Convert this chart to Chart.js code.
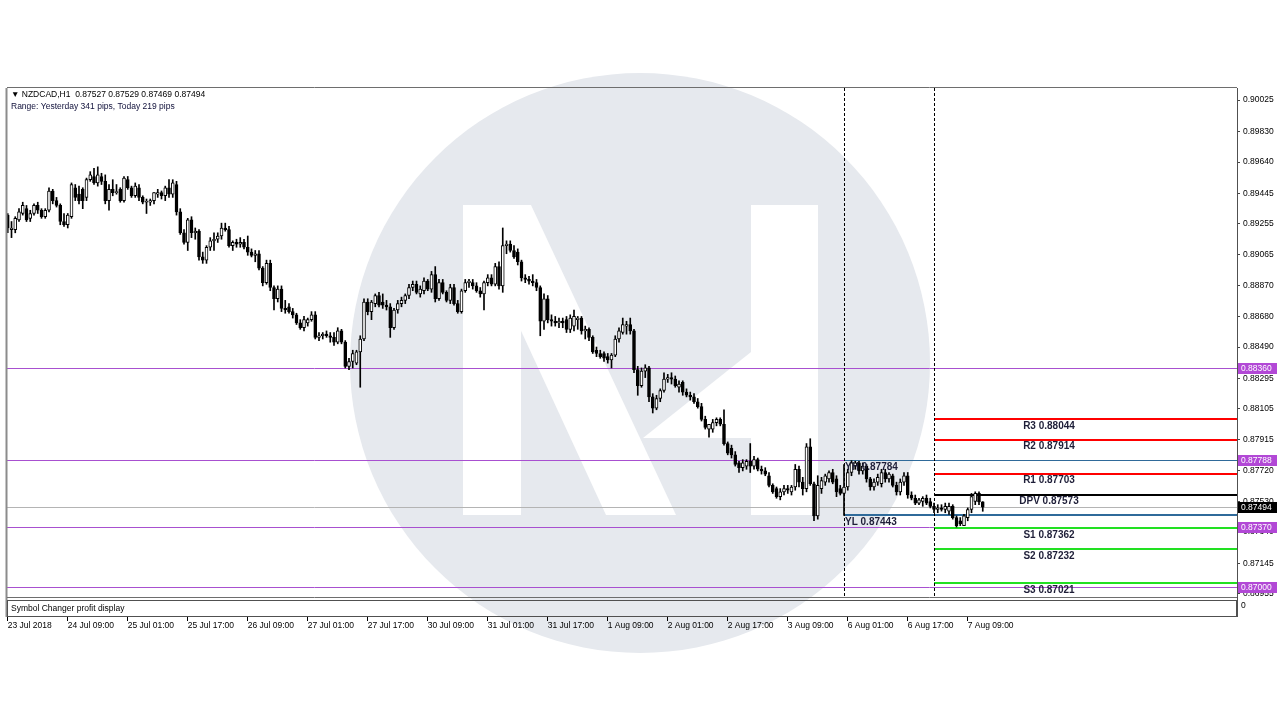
<!DOCTYPE html>
<html>
<head>
<meta charset="utf-8">
<title>NZDCAD,H1</title>
<script src="https://cdn.jsdelivr.net/npm/chart.js"></script>
<style>
  html, body { margin: 0; padding: 0; background: #fff; }
  canvas { display: block; }
</style>
</head>
<body>
<canvas id="chart" width="1280" height="720"></canvas>
<script>
// H1 bars, 23 Jul 17:00 .. 7 Aug 13:00
const barOpen = [
  .8931,.8922,.8922,.8928,.8932,.8935,.8929,.8932,.8937,.8934,
  .8930,.8934,.8946,.8940,.8937,.8927,.8925,.8930,.8948,.8944,
  .8947,.8942,.8953,.8955,.8951,.8955,.8952,.8940,.8947,.8945,
  .8947,.8940,.8953,.8948,.8943,.8948,.8942,.8939,.8939,.8940,
  .8944,.8945,.8943,.8948,.8944,.8950,.8933,.8920,.8914,.8928,
  .8920,.8921,.8905,.8903,.8911,.8915,.8916,.8918,.8923,.8922,
  .8912,.8914,.8913,.8914,.8911,.8908,.8906,.8907,.8898,.8889,
  .8901,.8886,.8879,.8885,.8873,.8874,.8871,.8869,.8864,.8861,
  .8864,.8866,.8869,.8855,.8856,.8857,.8856,.8855,.8852,.8859,
  .8852,.8837,.8840,.8839,.8846,.8854,.8877,.8871,.8876,.8881,
  .8877,.8875,.8874,.8861,.8872,.8876,.8878,.8881,.8886,.8888,
  .8882,.8884,.8890,.8885,.8894,.8879,.8889,.8883,.8878,.8886,
  .8876,.8871,.8884,.8889,.8889,.8887,.8884,.8882,.8889,.8892,
  .8888,.8899,.8887,.8912,.8913,.8909,.8908,.8902,.8892,.8891,
  .8890,.8889,.8886,.8865,.8879,.8866,.8865,.8864,.8865,.8866,
  .8860,.8862,.8866,.8867,.8859,.8860,.8855,.8847,.8845,.8845,
  .8843,.8841,.8844,.8854,.8858,.8862,.8863,.8859,.8835,.8825,
  .8834,.8836,.8818,.8811,.8817,.8822,.8829,.8830,.8829,.8824,
  .8827,.8821,.8819,.8818,.8815,.8812,.8804,.8798,.8798,.8802,
  .8804,.8801,.8789,.8786,.8782,.8777,.8774,.8775,.8778,.8775,
  .8779,.8773,.8772,.8769,.8763,.8761,.8756,.8759,.8761,.8759,
  .8762,.8773,.8765,.8761,.8787,.8764,.8744,.8761,.8765,.8767,
  .8771,.8767,.8761,.8758,.8762,.8771,.8775,.8777,.8772,.8775,
  .8767,.8762,.8765,.8764,.8771,.8767,.8769,.8763,.8759,.8765,
  .8769,.8757,.8755,.8752,.8753,.8755,.8753,.8750,.8748,.8749,
  .8748,.8747,.8750,.8743,.8741,.8738,.8743,.8748,.8753,.8758,
  .87527
];
const barHigh = [
  .8932,.8927,.8930,.8935,.8939,.8937,.8934,.8938,.8939,.8935,
  .8935,.8948,.8947,.8942,.8938,.8932,.8932,.8951,.8950,.8949,
  .8948,.8954,.8958,.8960,.8961,.8957,.8956,.8950,.8953,.8950,
  .8948,.8955,.8955,.8949,.8951,.8950,.8943,.8941,.8941,.8945,
  .8947,.8946,.8949,.8953,.8953,.8952,.8935,.8922,.8929,.8930,
  .8923,.8922,.8908,.8912,.8917,.8920,.8920,.8926,.8926,.8924,
  .8915,.8916,.8917,.8916,.8918,.8910,.8909,.8909,.8899,.8903,
  .8903,.8887,.8887,.8887,.8878,.8876,.8873,.8870,.8866,.8868,
  .8867,.8871,.8871,.8858,.8858,.8859,.8858,.8858,.8861,.8860,
  .8853,.8842,.8847,.8847,.8856,.8879,.8879,.8878,.8882,.8883,
  .8882,.8878,.8876,.8873,.8878,.8880,.8882,.8888,.8890,.8890,
  .8887,.8892,.8891,.8896,.8899,.8891,.8891,.8884,.8888,.8888,
  .8878,.8885,.8891,.8891,.8891,.8889,.8886,.8890,.8894,.8894,
  .8901,.8902,.8923,.8915,.8915,.8912,.8910,.8903,.8894,.8893,
  .8894,.8891,.8887,.8882,.8881,.8869,.8868,.8867,.8867,.8868,
  .8869,.8872,.8868,.8868,.8862,.8861,.8856,.8849,.8847,.8846,
  .8845,.8845,.8856,.8861,.8867,.8865,.8867,.8860,.8837,.8836,
  .8838,.8837,.8820,.8819,.8823,.8833,.8832,.8833,.8831,.8828,
  .8828,.8823,.8821,.8820,.8817,.8814,.8806,.8801,.8804,.8805,
  .8805,.8810,.8790,.8788,.8784,.8778,.8779,.8779,.8789,.8781,
  .8780,.8775,.8774,.8771,.8764,.8762,.8761,.8763,.8763,.8763,
  .8776,.8775,.8768,.8789,.8792,.8765,.8769,.8768,.8770,.8772,
  .8773,.8769,.8763,.8776,.8773,.87784,.8778,.8778,.8777,.8776,
  .8768,.8767,.8770,.8773,.8773,.8771,.8770,.8765,.8767,.8771,
  .8771,.8759,.8757,.8755,.8756,.8757,.8755,.8752,.8751,.8751,
  .8752,.8752,.8751,.8744,.8743,.8745,.8749,.8758,.8759,.87590,
  .87529
];
const barLow = [
  .8920,.8917,.8920,.8927,.8931,.8927,.8927,.8931,.8932,.8929,
  .8929,.8933,.8938,.8936,.8925,.8924,.8923,.8929,.8940,.8938,
  .8935,.8940,.8952,.8950,.8949,.8950,.8938,.8934,.8943,.8944,
  .8939,.8939,.8947,.8942,.8942,.8940,.8938,.8932,.8937,.8938,
  .8942,.8941,.8940,.8942,.8942,.8931,.8919,.8913,.8909,.8917,
  .8916,.8903,.8901,.8901,.8909,.8909,.8914,.8916,.8921,.8911,
  .8909,.8911,.8911,.8910,.8906,.8905,.8902,.8897,.8887,.8888,
  .8884,.8872,.8877,.8871,.8870,.8870,.8867,.8863,.8860,.8859,
  .8862,.8865,.8854,.8853,.8854,.8855,.8852,.8850,.8851,.8851,
  .8836,.8835,.8836,.8838,.8824,.8853,.8869,.8866,.8874,.8874,
  .8873,.8872,.8855,.8860,.8870,.8874,.8876,.8879,.8884,.8882,
  .8880,.8882,.8884,.8883,.8877,.8878,.8882,.8877,.8876,.8875,
  .8870,.8870,.8883,.8886,.8885,.8883,.8880,.8872,.8887,.8887,
  .8887,.8885,.8883,.8907,.8908,.8904,.8900,.8890,.8889,.8888,
  .8887,.8884,.8856,.8860,.8864,.8862,.8862,.8861,.8861,.8858,
  .8858,.8859,.8860,.8857,.8854,.8853,.8845,.8843,.8842,.8840,
  .8839,.8836,.8843,.8852,.8857,.8857,.8857,.8833,.8819,.8824,
  .8830,.8815,.8808,.8810,.8815,.8821,.8827,.8826,.8824,.8821,
  .8819,.8818,.8816,.8814,.8811,.8803,.8798,.8793,.8796,.8800,
  .8800,.8788,.8782,.8780,.8775,.8771,.8772,.8773,.8771,.8773,
  .8772,.8770,.8769,.8762,.8758,.8755,.8754,.8757,.8758,.8757,
  .8760,.8762,.8757,.8759,.8763,.8741,.8742,.8758,.8763,.8765,
  .8764,.8756,.8757,.87443,.8760,.8769,.8773,.8770,.8770,.8765,
  .8760,.8760,.8763,.8762,.8765,.8765,.8762,.8757,.8757,.8763,
  .8755,.8754,.8751,.8751,.8750,.8751,.8749,.8746,.8746,.8747,
  .8746,.8745,.8742,.87371,.8738,.8738,.8741,.8746,.8751,.8751,
  .87469
];
const barClose = [
  .8923,.8923,.8929,.8933,.8937,.8928,.8932,.8937,.8934,.8930,
  .8934,.8946,.8940,.8937,.8927,.8925,.8931,.8950,.8942,.8940,
  .8940,.8953,.8956,.8951,.8956,.8952,.8940,.8947,.8945,.8945,
  .8940,.8954,.8948,.8943,.8949,.8942,.8939,.8939,.8940,.8945,
  .8945,.8943,.8948,.8944,.8951,.8933,.8920,.8914,.8928,.8920,
  .8921,.8905,.8903,.8911,.8915,.8916,.8918,.8923,.8922,.8912,
  .8914,.8913,.8914,.8911,.8908,.8906,.8907,.8898,.8889,.8901,
  .8886,.8879,.8885,.8873,.8872,.8871,.8869,.8864,.8861,.8866,
  .8866,.8869,.8855,.8856,.8857,.8856,.8855,.8852,.8859,.8852,
  .8837,.8840,.8845,.8846,.8854,.8877,.8871,.8877,.8881,.8875,
  .8875,.8874,.8861,.8872,.8876,.8878,.8881,.8886,.8888,.8883,
  .8885,.8890,.8885,.8894,.8879,.8889,.8883,.8878,.8886,.8876,
  .8871,.8884,.8889,.8890,.8887,.8884,.8882,.8889,.8892,.8888,
  .8899,.8887,.8912,.8913,.8909,.8905,.8902,.8892,.8891,.8890,
  .8889,.8886,.8865,.8879,.8866,.8865,.8864,.8865,.8864,.8860,
  .8867,.8868,.8867,.8859,.8860,.8855,.8846,.8845,.8843,.8842,
  .8841,.8844,.8854,.8859,.8863,.8863,.8859,.8835,.8825,.8834,
  .8836,.8818,.8811,.8817,.8822,.8829,.8830,.8829,.8825,.8826,
  .8821,.8819,.8818,.8815,.8812,.8804,.8799,.8801,.8802,.8804,
  .8801,.8789,.8783,.8782,.8776,.8774,.8777,.8778,.8775,.8779,
  .8773,.8772,.8770,.8763,.8759,.8756,.8759,.8761,.8760,.8762,
  .8773,.8765,.8761,.8787,.8764,.8744,.8763,.8766,.8769,.8771,
  .8765,.8759,.8758,.8762,.8771,.8777,.8777,.8772,.8775,.8767,
  .8762,.8765,.8768,.8771,.8767,.8770,.8763,.8759,.8765,.8769,
  .8757,.8755,.8752,.8754,.8755,.8752,.8750,.8748,.8749,.8748,
  .8750,.8750,.8743,.8738,.8739,.8744,.8748,.8756,.8758,.87527,
  .87494
];

// time axis: one label every 16 bars
const timeLabels = ["23 Jul 2018", "24 Jul 09:00", "25 Jul 01:00", "25 Jul 17:00", "26 Jul 09:00",
  "27 Jul 01:00", "27 Jul 17:00", "30 Jul 09:00", "31 Jul 01:00", "31 Jul 17:00", "1 Aug 09:00",
  "2 Aug 01:00", "2 Aug 17:00", "3 Aug 09:00", "6 Aug 01:00", "6 Aug 17:00", "7 Aug 09:00"];
const timeLabelBars = [0, 16, 32, 48, 64, 80, 96, 112, 128, 144, 160, 176, 192, 208, 224, 240, 256];
const daySeparatorBars = [223, 247];

// price scale ticks (right side)
const priceTicks = [0.90025, 0.89830, 0.89640, 0.89445, 0.89255, 0.89065, 0.88870, 0.88680, 0.88490,
  0.88295, 0.88105, 0.87915, 0.87720, 0.87530, 0.87340, 0.87145, 0.86955];

// levels
const levelPrices = [0.88360, 0.87788, 0.87370, 0.87000];
const pivotNames = ["R3", "R2", "R1", "DPV", "S1", "S2", "S3"];
const pivotValues = [0.88044, 0.87914, 0.87703, 0.87573, 0.87362, 0.87232, 0.87021];
const pivotColors = ["#ff0000", "#ff0000", "#ff0000", "#000000", "#22e022", "#22e022", "#22e022"];
const yesterdayHigh = 0.87784;
const yesterdayLow = 0.87443;
const lastPrice = 0.87494;

const FONT = '"Liberation Sans", Arial, "DejaVu Sans", sans-serif';
Chart.defaults.font.family = FONT;

const poly = (c, pts) => {
  c.beginPath();
  c.moveTo(pts[0][0], pts[0][1]);
  pts.slice(1).forEach(p => c.lineTo(p[0], p[1]));
  c.closePath();
  c.fill();
};

const overlay = {
  id: 'overlay',
  beforeDraw(chart) {
    const c = chart.ctx;
    c.save();
    c.fillStyle = '#ffffff';
    c.fillRect(0, 0, chart.width, chart.height);
    // watermark logo
    c.fillStyle = 'rgb(230,233,238)';
    c.beginPath();
    c.arc(640, 363, 290, 0, Math.PI * 2);
    c.fill();
    c.fillStyle = '#ffffff';
    poly(c, [[463, 205], [521, 205], [521, 515], [463, 515]]);
    poly(c, [[463, 205], [531, 205], [676, 515], [606, 515]]);
    poly(c, [[751, 205], [818, 205], [818, 515], [751, 515]]);
    poly(c, [[751, 352], [751, 438], [643, 438]]);
    c.restore();
  },
  beforeDatasetsDraw(chart) {
    const c = chart.ctx, a = chart.chartArea;
    const x = chart.scales.x, y = chart.scales.y;
    const px = v => Math.round(y.getPixelForValue(v)) + 0.5;
    c.save();
    c.beginPath();
    c.rect(a.left, a.top, a.right - a.left, a.bottom - a.top);
    c.clip();
    c.lineWidth = 1;
    // last price line
    c.strokeStyle = '#b4b4b4';
    c.beginPath(); c.moveTo(a.left, px(lastPrice)); c.lineTo(a.right, px(lastPrice)); c.stroke();
    // purple levels
    c.strokeStyle = 'rgb(168,80,208)';
    levelPrices.forEach(v => {
      c.beginPath(); c.moveTo(a.left, px(v)); c.lineTo(a.right, px(v)); c.stroke();
    });
    // yesterday high / low
    const xd = Math.round(x.getPixelForValue(daySeparatorBars[0]));
    c.strokeStyle = '#2f6a9a';
    c.beginPath(); c.moveTo(xd, px(yesterdayHigh) - 1); c.lineTo(a.right, px(yesterdayHigh) - 1); c.stroke();
    c.lineWidth = 2;
    const yl = Math.round(y.getPixelForValue(yesterdayLow));
    c.beginPath(); c.moveTo(xd, yl); c.lineTo(a.right, yl); c.stroke();
    // pivots
    const xp = Math.round(x.getPixelForValue(daySeparatorBars[1]));
    pivotValues.forEach((v, i) => {
      const yy = Math.round(y.getPixelForValue(v));
      c.strokeStyle = pivotColors[i];
      c.beginPath(); c.moveTo(xp, yy); c.lineTo(a.right, yy); c.stroke();
    });
    // day separators
    c.lineWidth = 1;
    c.strokeStyle = '#000';
    c.setLineDash([3, 2]);
    daySeparatorBars.forEach(b => {
      const xx = Math.round(x.getPixelForValue(b)) + 0.5;
      c.beginPath(); c.moveTo(xx, a.top); c.lineTo(xx, a.bottom); c.stroke();
    });
    c.restore();
  },
  afterDraw(chart) {
    const c = chart.ctx, a = chart.chartArea;
    const x = chart.scales.x, y = chart.scales.y;
    c.save();
    // pivot labels
    c.font = 'bold 10px ' + FONT;
    c.fillStyle = '#1e1e38';
    c.textAlign = 'center';
    c.textBaseline = 'middle';
    pivotValues.forEach((v, i) => {
      c.fillText(pivotNames[i] + ' ' + v.toFixed(5), 1049, y.getPixelForValue(v) + 7);
    });
    // YH / YL labels
    c.textAlign = 'left';
    const xd = x.getPixelForValue(daySeparatorBars[0]) + 1;
    c.fillText('YH ' + yesterdayHigh.toFixed(5), xd, y.getPixelForValue(yesterdayHigh) + 7);
    c.fillText('YL ' + yesterdayLow.toFixed(5), xd, y.getPixelForValue(yesterdayLow) + 7);

    // price boxes on the right axis
    c.font = '8.5px ' + FONT;
    const box = (v, bg) => {
      const yy = Math.round(y.getPixelForValue(v));
      c.fillStyle = bg;
      c.fillRect(a.right + 1, yy - 5, 39, 11);
      c.fillStyle = '#ffffff';
      c.fillText(v.toFixed(5), a.right + 4, yy + 0.5);
    };
    levelPrices.forEach(v => box(v, 'rgb(178,72,214)'));
    box(lastPrice, '#000000');

    // frame
    c.strokeStyle = '#8c8c8c';
    c.lineWidth = 2;
    c.beginPath(); c.moveTo(a.left - 0.5, a.top); c.lineTo(a.left - 0.5, 617); c.stroke();
    c.lineWidth = 1;
    c.strokeStyle = '#6e6e6e';
    c.beginPath(); c.moveTo(a.left, a.top - 0.5); c.lineTo(a.right, a.top - 0.5); c.stroke();
    c.beginPath(); c.moveTo(a.left, a.bottom - 0.5); c.lineTo(a.right, a.bottom - 0.5); c.stroke();
    // sub window
    c.strokeStyle = '#505050';
    c.strokeRect(a.left + 0.5, 600.5, a.right - a.left - 1, 16);
    c.beginPath(); c.moveTo(a.right + 0.5, a.top); c.lineTo(a.right + 0.5, 617); c.stroke();
    c.fillStyle = '#000';
    c.textBaseline = 'middle';
    c.fillText('Symbol Changer profit display', a.left + 4, 608.5);
    c.fillText('0', a.right + 4, 606);
    // time axis tick marks
    c.strokeStyle = '#000';
    timeLabelBars.forEach(b => {
      const xx = Math.round(x.getPixelForValue(b)) - 0.5;
      c.beginPath(); c.moveTo(xx, 617); c.lineTo(xx, 621); c.stroke();
    });
    // header
    c.fillStyle = '#000';
    c.fillText('\u25BC NZDCAD,H1  0.87527 0.87529 0.87469 0.87494', a.left + 4, 95);
    c.fillStyle = '#10103a';
    c.fillText('Range: Yesterday 341 pips, Today 219 pips', a.left + 4, 107);
    c.restore();
  }
};

const bodyColors = barOpen.map((o, i) => barClose[i] >= o ? '#ffffff' : '#000000');

new Chart(document.getElementById('chart'), {
  type: 'bar',
  data: {
    datasets: [
      {
        label: 'body',
        data: barOpen.map((o, i) => ({ x: i, y: [o, barClose[i]] })),
        backgroundColor: bodyColors,
        borderColor: '#000000',
        borderWidth: 1,
        borderSkipped: false,
        barThickness: 3,
        minBarLength: 1,
        grouped: false,
        order: 1
      },
      {
        label: 'wick',
        data: barLow.map((l, i) => ({ x: i, y: [l, barHigh[i]] })),
        backgroundColor: '#000000',
        borderWidth: 0,
        barThickness: 1,
        grouped: false,
        order: 2
      }
    ]
  },
  options: {
    responsive: false,
    animation: false,
    devicePixelRatio: 1,
    events: [],
    layout: { padding: { left: 7, top: 88, right: 0, bottom: 0 } },
    plugins: {
      legend: { display: false },
      tooltip: { enabled: false },
      title: { display: false }
    },
    scales: {
      x: {
        type: 'linear',
        bounds: 'data',
        min: -0.2,
        max: 327.8,
        offset: false,
        grid: { display: false },
        border: { display: false },
        afterBuildTicks: s => { s.ticks = timeLabelBars.map(v => ({ value: v })); },
        afterFit: s => { s.height = 122; s.paddingLeft = 0; s.paddingRight = 0; },
        ticks: {
          autoSkip: false,
          maxRotation: 0,
          align: 'start',
          padding: 15,
          color: '#000',
          font: { size: 8.5 },
          callback: (v, i) => timeLabels[i]
        }
      },
      y: {
        position: 'right',
        bounds: 'data',
        beginAtZero: false,
        min: 0.86930,
        max: 0.90100,
        grid: { display: true, drawOnChartArea: false, tickLength: 3, color: '#444' },
        border: { display: true, color: '#555' },
        afterBuildTicks: s => { s.ticks = priceTicks.map(v => ({ value: v })); },
        afterFit: s => { s.width = 43; },
        ticks: {
          padding: 3,
          color: '#000',
          font: { size: 8.5 },
          callback: v => v.toFixed(5)
        }
      }
    }
  },
  plugins: [overlay]
});
</script>
</body>
</html>
